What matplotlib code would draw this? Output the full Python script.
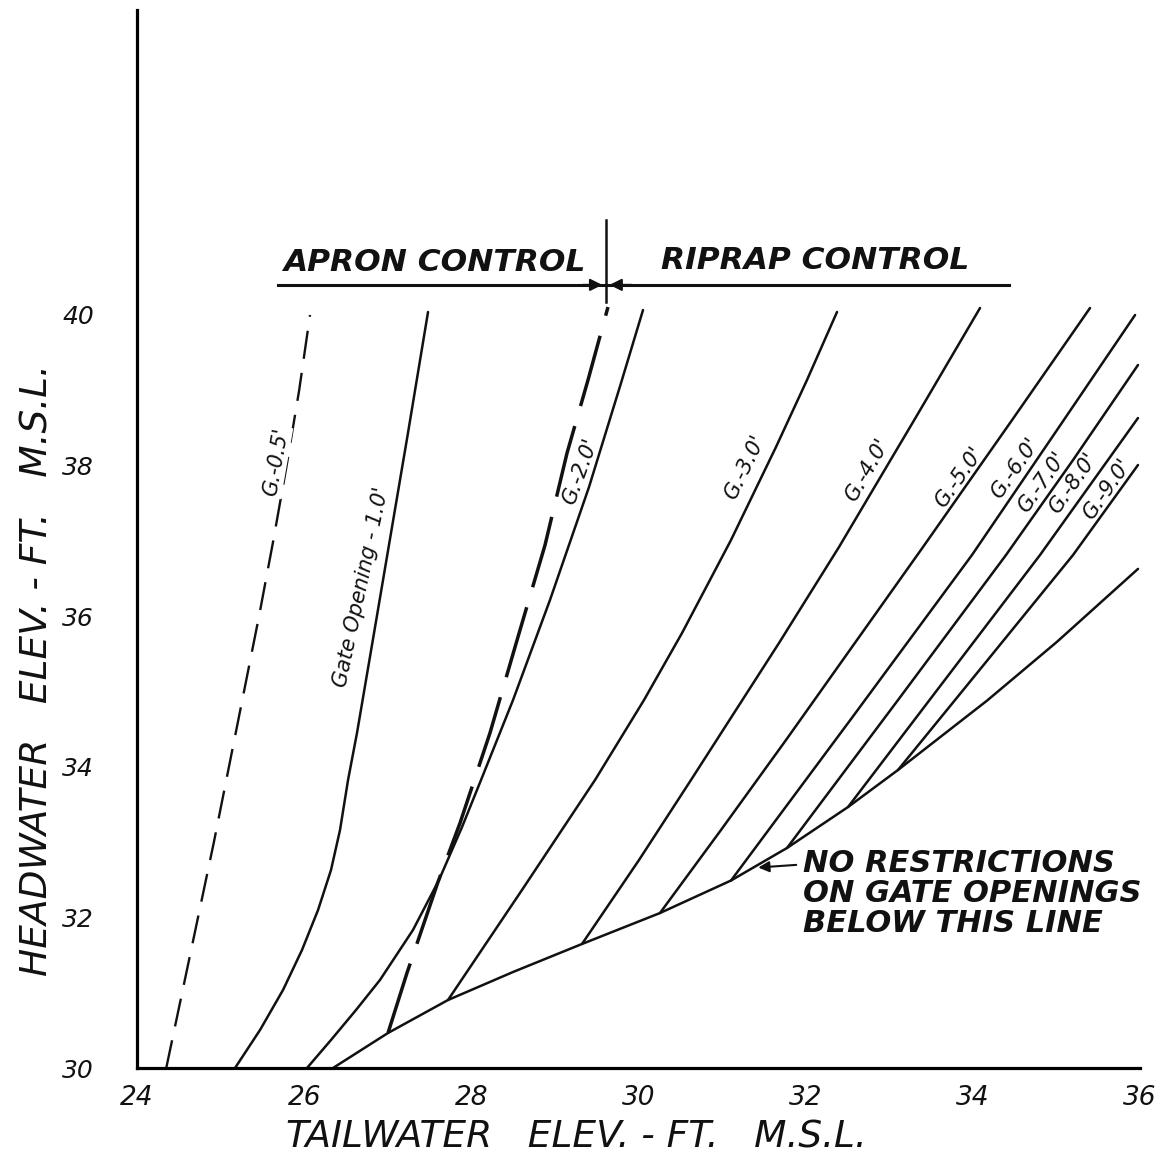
import matplotlib
matplotlib.use('Agg')
import matplotlib.pyplot as plt

env_tw = [26.345, 27.003, 27.721, 28.499, 29.324, 30.257, 31.107, 31.777, 32.507, 33.105, 34.170, 35.007, 35.976]
env_hw = [30.000, 30.465, 30.903, 31.275, 31.647, 32.058, 32.490, 32.922, 33.466, 33.958, 34.879, 35.660, 36.628]

g05_tw = [24.35, 24.54, 24.73, 24.92, 25.10, 25.28, 25.46, 25.63, 25.79, 25.94, 26.07]
g05_hw = [30.0, 31.0, 32.0, 33.0, 34.0, 35.0, 36.0, 37.0, 38.0, 39.0, 40.0]

g1_tw = [25.173, 25.472, 25.747, 25.974, 26.166, 26.321, 26.429, 26.525, 26.632, 26.836, 27.039, 27.242, 27.482]
g1_hw = [30.000, 30.505, 31.036, 31.567, 32.098, 32.629, 33.161, 33.825, 34.449, 35.777, 37.105, 38.433, 40.040]

bnd_tw = [27.003, 27.230, 27.601, 27.865, 28.223, 28.558, 28.882, 29.145, 29.396, 29.635]
bnd_hw = [30.465, 31.262, 32.470, 33.254, 34.449, 35.724, 36.946, 38.167, 39.137, 40.106]

g2_tw = [26.034, 26.321, 26.620, 26.907, 27.302, 27.613, 27.889, 28.116, 28.499, 28.941, 29.408, 29.791, 30.054]
g2_hw = [30.000, 30.372, 30.770, 31.169, 31.833, 32.497, 33.201, 33.825, 34.887, 36.215, 37.716, 39.097, 40.066]

g3_tw = [27.721, 28.606, 29.480, 30.066, 30.521, 31.107, 31.645, 32.016, 32.375]
g3_hw = [30.903, 32.364, 33.825, 34.887, 35.777, 37.012, 38.247, 39.137, 40.040]

g4_tw = [29.324, 30.006, 30.628, 31.681, 32.399, 33.320, 34.086]
g4_hw = [31.647, 32.762, 33.825, 35.644, 36.919, 38.645, 40.093]

g5_tw = [30.257, 30.987, 31.765, 32.614, 33.404, 34.445, 35.402]
g5_hw = [32.058, 33.161, 34.356, 35.684, 36.919, 38.566, 40.093]

g6_tw = [31.107, 32.543, 33.990, 34.983, 35.941]
g6_hw = [32.490, 34.635, 36.813, 38.433, 40.000]

g7_tw = [31.777, 33.105, 34.397, 35.199, 35.976]
g7_hw = [32.922, 34.887, 36.813, 38.074, 39.336]

g8_tw = [32.507, 33.655, 34.804, 35.976]
g8_hw = [33.466, 35.139, 36.813, 38.632]

g9_tw = [33.105, 34.158, 35.199, 35.976]
g9_hw = [33.958, 35.392, 36.813, 38.008]

x_ticks = [24, 26, 28, 30, 32, 34, 36]
y_ticks = [30, 32, 34, 36, 38, 40]

gate_labels = ["G.-0.5'", "Gate Opening - 1.0'", "G.-2.0'", "G.-3.0'", "G.-4.0'",
               "G.-5.0'", "G.-6.0'", "G.-7.0'", "G.-8.0'", "G.-9.0'"]
# центр подписи (tw, hw) и угол поворота
label_pos = [(25.66, 38.05, 80), (26.69, 36.39, 78), (29.30, 37.92, 70),
             (31.27, 37.98, 64), (32.73, 37.94, 60), (33.84, 37.85, 55),
             (34.50, 37.97, 55), (34.83, 37.78, 55), (35.20, 37.77, 55),
             (35.61, 37.68, 55)]

W, H = 1162, 1155
fig = plt.figure(figsize=(W / 100, H / 100), dpi=100)
ax = fig.add_axes([137 / W, 1 - 1068 / H, (1140 - 137) / W, (1068 - 10) / H])
ax.set_xlim(24, 36)
ax.set_ylim(30, 30 + 1058 / 75.3)

for s in ['top', 'right']:
    ax.spines[s].set_visible(False)
for s in ['left', 'bottom']:
    ax.spines[s].set_linewidth(2.3)

ink = '#111111'
solid = [(g1_tw, g1_hw), (g2_tw, g2_hw), (g3_tw, g3_hw), (g4_tw, g4_hw),
         (g5_tw, g5_hw), (g6_tw, g6_hw), (g7_tw, g7_hw), (g8_tw, g8_hw),
         (g9_tw, g9_hw), (env_tw, env_hw)]
for tw, hw in solid:
    ax.plot(tw, hw, color=ink, lw=1.8, clip_on=False,
            solid_capstyle='round', solid_joinstyle='round')

ax.plot(g05_tw, g05_hw, color=ink, lw=1.7, dashes=(12, 6), clip_on=False)
ax.plot(bnd_tw, bnd_hw, color=ink, lw=2.5, dashes=(21, 6), clip_on=False)

font = dict(family='DejaVu Sans', style='italic', color=ink)

for i, (txt, (x, y, rot)) in enumerate(zip(gate_labels, label_pos)):
    t = ax.text(x, y, txt, rotation=rot, ha='center', va='center', fontsize=15,
                rotation_mode='anchor', zorder=5, **font)
    if i == 0:
        # подпись разрывает штриховую линию
        t.set_bbox(dict(facecolor='white', edgecolor='none', pad=1))

# Apron / riprap control header
ax.plot([25.69, 34.43], [40.40, 40.40], color=ink, lw=2.2, clip_on=False)
ax.plot([29.61, 29.61], [40.17, 41.26], color=ink, lw=1.8, clip_on=False)
ax.annotate('', xy=(29.60, 40.40), xytext=(29.30, 40.40),
            arrowprops=dict(arrowstyle='-|>', color=ink, lw=1.5, mutation_scale=18))
ax.annotate('', xy=(29.62, 40.40), xytext=(29.95, 40.40),
            arrowprops=dict(arrowstyle='-|>', color=ink, lw=1.5, mutation_scale=18))
ax.text(27.56, 40.70, 'APRON CONTROL', ha='center', va='center', fontsize=22.5,
        fontweight='bold', **font)
ax.text(32.11, 40.73, 'RIPRAP CONTROL', ha='center', va='center', fontsize=22.5,
        fontweight='bold', **font)

# No restrictions note
ax.annotate('', xy=(31.40, 32.66), xytext=(31.92, 32.70),
            arrowprops=dict(arrowstyle='-|>', color=ink, lw=1.5, mutation_scale=16))
for txt, y in zip(['NO RESTRICTIONS', 'ON GATE OPENINGS', 'BELOW THIS LINE'],
                  [32.72, 32.32, 31.92]):
    ax.text(31.97, y, txt, ha='left', va='center', fontsize=22, fontweight='bold', **font)

ax.set_xticks(x_ticks)
ax.set_yticks(y_ticks)
ax.set_xticklabels([str(v) for v in x_ticks], fontsize=19, style='italic', color=ink)
ax.set_yticklabels([str(v) for v in y_ticks], fontsize=18, style='italic', color=ink)
ax.tick_params(axis='x', length=0, pad=12)
ax.tick_params(axis='y', length=0, pad=31)

fig.text(576 / W, 1 - 1138 / H, 'TAILWATER   ELEV. - FT.   M.S.L.', ha='center',
         va='center', fontsize=27, **font)
fig.text(38 / W, 1 - 670 / H, 'HEADWATER   ELEV. - FT.   M.S.L.', ha='center',
         va='center', rotation=90, fontsize=27, **font)

fig.savefig('out.png', dpi=100, facecolor='white')
